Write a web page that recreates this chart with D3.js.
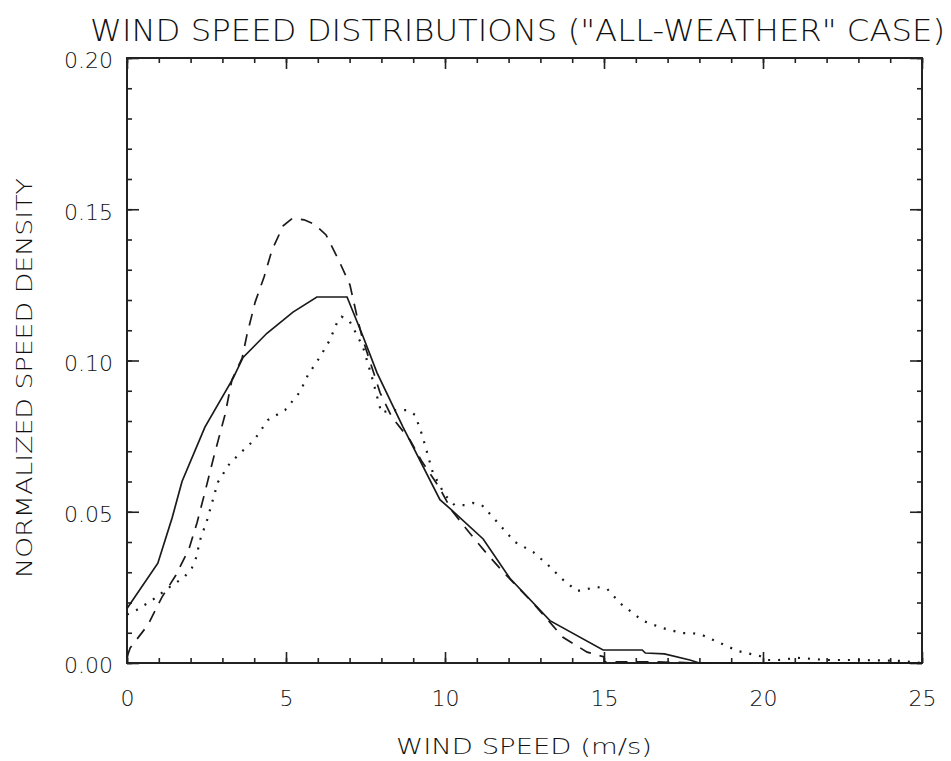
<!DOCTYPE html>
<html>
<head>
<meta charset="utf-8">
<script src="https://cdn.jsdelivr.net/npm/d3@7"></script>
<style>
  body { margin: 0; background: #fff; }
  #chart text { font-family: "DejaVu Sans", "Liberation Sans", sans-serif; font-weight: 200; fill: #111; }
</style>
</head>
<body>
<div id="chart"></div>
<script>
// solid curve
const solidSpeed = [0, 0.97, 1.42, 1.73, 2.45, 3.33, 3.65, 4.4, 5.22, 5.97, 6.92, 7.42, 7.86, 8.68, 9.84,
    10.16, 11.2, 12.04, 13.3, 14.97, 16.2, 16.3, 16.9, 17.7, 18.0, 25];
const solidDensity = [0.018, 0.033, 0.048, 0.060, 0.078, 0.094, 0.101, 0.109, 0.116, 0.121, 0.121, 0.108, 0.096, 0.078, 0.054,
    0.051, 0.041, 0.028, 0.014, 0.0043, 0.0043, 0.0033, 0.003, 0.001, 0, 0];

// dashed curve
const dashedSpeed = [0, 0.1, 0.66, 1.1, 1.54, 1.95, 2.2, 2.42, 2.75, 3.08, 3.3, 3.62, 3.77, 4.03, 4.31,
    4.56, 4.91, 5.2, 5.57, 5.9, 6.26, 6.67, 7.01, 7.23, 7.39, 7.77, 7.96, 8.33, 8.9, 9.28,
    9.81, 10.22, 10.75, 11.35, 11.92, 12.77, 13.71, 14.47, 15, 15, 16.5, 18, 25];
const dashedDensity = [0.002, 0.005, 0.0126, 0.0218, 0.0291, 0.0377, 0.0463, 0.0552, 0.069, 0.082, 0.0936, 0.1008, 0.1084, 0.1193, 0.1276,
    0.1365, 0.1445, 0.147, 0.1465, 0.145, 0.1415, 0.1329, 0.125, 0.1147, 0.1078, 0.0955, 0.0893, 0.0813, 0.0737, 0.0665,
    0.0582, 0.0503, 0.0433, 0.0357, 0.0291, 0.0198, 0.0085, 0.0036, 0.002, 0.0004, 0.0004, 0, 0];

// dotted curve
const dottedSpeed = [0, 0.3, 0.8, 1.3, 1.8, 2.04, 2.17, 2.3, 2.52, 2.86, 3.2, 3.5, 4.0, 4.43, 4.97,
    5.44, 5.69, 6.07, 6.38, 6.6, 6.75, 7.0, 7.2, 7.42, 7.7, 8.0, 8.27, 8.8, 9.06, 9.28,
    9.62, 10.0, 10.3, 10.63, 10.88, 11.16, 11.64, 12.2, 12.77, 13.24, 13.68, 14.15, 14.78, 15.1, 15.5,
    16.23, 16.82, 17.45, 17.77, 18.08, 18.65, 19.2, 19.9, 20.16, 20.5, 21.1, 22.0, 23.0, 24.3, 25];
const dottedDensity = [0.016, 0.0175, 0.0208, 0.0248, 0.0284, 0.0314, 0.0347, 0.0407, 0.0473, 0.0598, 0.0655, 0.0688, 0.0737, 0.0803, 0.0836,
    0.0896, 0.0952, 0.1012, 0.1068, 0.1124, 0.1145, 0.113, 0.109, 0.1045, 0.0946, 0.0827, 0.0836, 0.0836, 0.082, 0.0754,
    0.0628, 0.0555, 0.0522, 0.0522, 0.0529, 0.0522, 0.0466, 0.04, 0.0367, 0.0324, 0.0278, 0.0238, 0.0251, 0.0245, 0.0198,
    0.0139, 0.0116, 0.0099, 0.0099, 0.0093, 0.0066, 0.004, 0.0023, 0.001, 0.001, 0.0017, 0.001, 0.001, 0.0007, 0];

const xMajorTicks = [0, 5, 10, 15, 20, 25];
const xMinorTicks = d3.range(0, 26, 1);
const yMajorTicks = [0, 0.05, 0.10, 0.15, 0.20];
const yMinorTicks = d3.range(0, 0.2001, 0.01);

const titleText = 'WIND SPEED DISTRIBUTIONS ("ALL-WEATHER" CASE)';
const xTitle = "WIND SPEED (m/s)";
const yTitle = "NORMALIZED SPEED DENSITY";

document.addEventListener('DOMContentLoaded', () => {
    const width = 951;
    const height = 761;
    const margin = { top: 58, right: 29, bottom: 98, left: 127 };
    const plotW = width - margin.left - margin.right;
    const plotH = height - margin.top - margin.bottom;

    const svg = d3.select("#chart")
        .append("svg")
        .attr("width", width)
        .attr("height", height);

    svg.append("rect").attr("width", width).attr("height", height).attr("fill", "#fff");

    const x = d3.scaleLinear().domain([0, 25]).range([0, plotW]);
    const y = d3.scaleLinear().domain([0, 0.2]).range([plotH, 0]);

    const g = svg.append("g").attr("transform", `translate(${margin.left},${margin.top})`);

    // minor ticks on all four sides
    g.append("g").attr("transform", `translate(0,${plotH})`)
        .call(d3.axisBottom(x).tickValues(xMinorTicks).tickSize(-5).tickFormat(""));
    g.append("g")
        .call(d3.axisTop(x).tickValues(xMinorTicks).tickSize(-5).tickFormat(""));
    g.append("g")
        .call(d3.axisLeft(y).tickValues(yMinorTicks).tickSize(-5).tickFormat(""));
    g.append("g").attr("transform", `translate(${plotW},0)`)
        .call(d3.axisRight(y).tickValues(yMinorTicks).tickSize(-5).tickFormat(""));

    // major ticks with labels
    const xAxis = g.append("g").attr("transform", `translate(0,${plotH})`)
        .call(d3.axisBottom(x).tickValues(xMajorTicks).tickSize(-11).tickPadding(27).tickFormat(d3.format("d")));
    g.append("g")
        .call(d3.axisTop(x).tickValues(xMajorTicks).tickSize(-11).tickFormat(""));
    const yAxis = g.append("g")
        .call(d3.axisLeft(y).tickValues(yMajorTicks).tickSize(-12).tickPadding(14).tickFormat(d3.format(".2f")));
    g.append("g").attr("transform", `translate(${plotW},0)`)
        .call(d3.axisRight(y).tickValues(yMajorTicks).tickSize(-12).tickFormat(""));

    g.selectAll(".domain").remove();
    g.selectAll(".tick line").attr("stroke", "#222").attr("stroke-width", 1.6);
    xAxis.selectAll("text").attr("font-size", 22);
    yAxis.selectAll("text").attr("font-size", 22).attr("dy", "0.45em");

    // frame
    g.append("rect")
        .attr("width", plotW)
        .attr("height", plotH)
        .attr("fill", "none")
        .attr("stroke", "#222")
        .attr("stroke-width", 2);

    const line = d3.line()
        .x(d => x(d[0]))
        .y(d => y(d[1]));

    const series = [
        { speed: solidSpeed, density: solidDensity, dash: null, width: 1.7 },
        { speed: dashedSpeed, density: dashedDensity, dash: "12,9", width: 1.7 },
        { speed: dottedSpeed, density: dottedDensity, dash: "2,8", width: 2.2 }
    ];

    series.forEach(s => {
        g.append("path")
            .datum(s.speed.map((v, i) => [v, s.density[i]]))
            .attr("d", line)
            .attr("fill", "none")
            .attr("stroke", "#1a1a1a")
            .attr("stroke-width", s.width)
            .attr("stroke-dasharray", s.dash);
    });

    // titles
    svg.append("text")
        .attr("x", 90)
        .attr("y", 41)
        .attr("font-size", 30)
        .attr("textLength", 855)
        .attr("lengthAdjust", "spacingAndGlyphs")
        .text(titleText);

    svg.append("text")
        .attr("x", 396)
        .attr("y", 754)
        .attr("font-size", 22)
        .attr("textLength", 256)
        .attr("lengthAdjust", "spacingAndGlyphs")
        .text(xTitle);

    svg.append("text")
        .attr("transform", "translate(32,378) rotate(-90)")
        .attr("text-anchor", "middle")
        .attr("font-size", 22)
        .attr("textLength", 400)
        .attr("lengthAdjust", "spacingAndGlyphs")
        .text(yTitle);
});
</script>
</body>
</html>
